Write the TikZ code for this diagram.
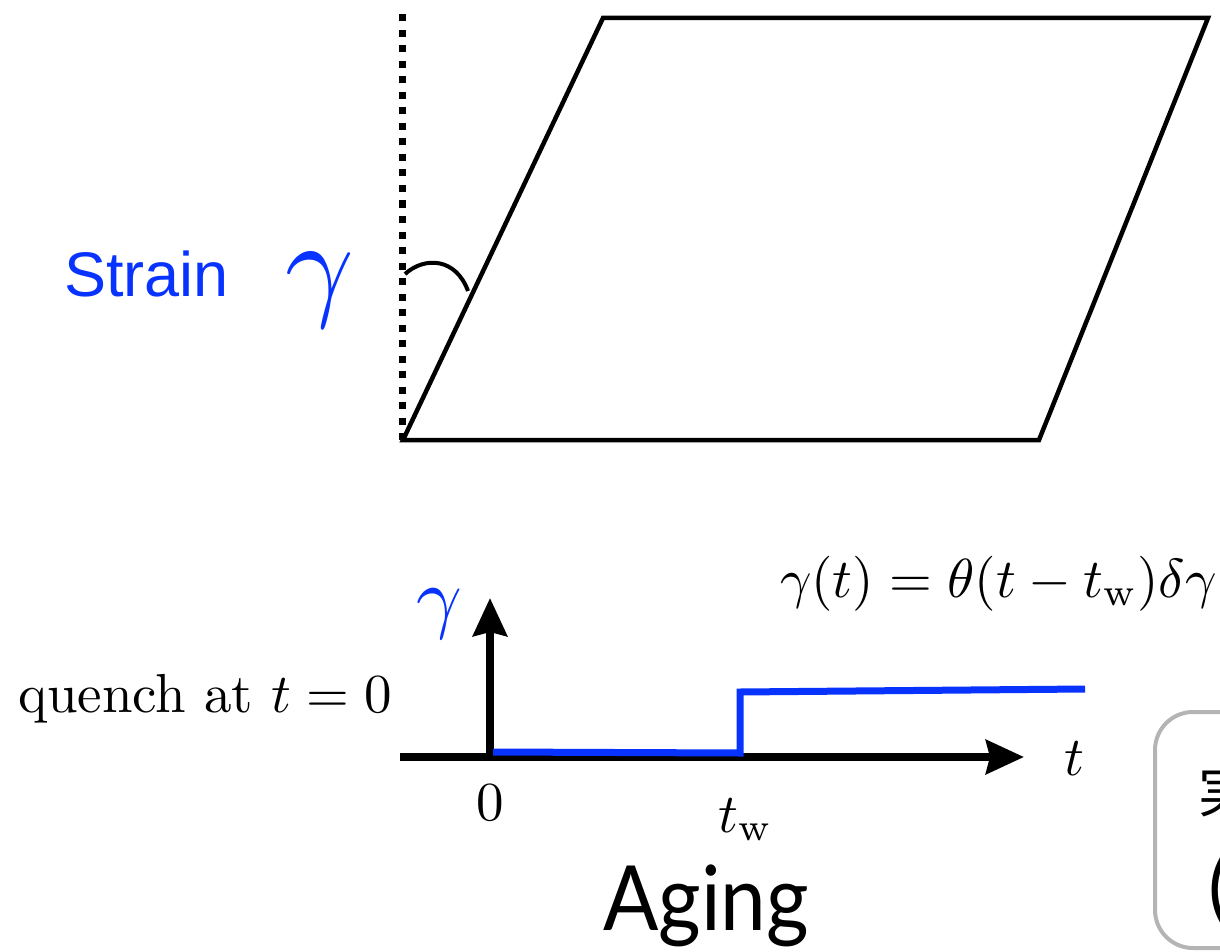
\documentclass[tikz,border=0pt]{standalone}
\usepackage{graphicx}
\usepackage{fontspec}
\newfontfamily\strainfont{Liberation Sans}
\newfontfamily\agingfont{Lato}
\newfontfamily\cjk{Noto Sans CJK JP}
\usetikzlibrary{arrows.meta}
\definecolor{sblue}{RGB}{8,51,255}
\definecolor{boxgray}{RGB}{180,180,180}
\tikzset{
  lbl/.style={inner sep=0pt, outer sep=0pt},
  edge/.style={line width=4.5pt, line join=miter},
  axis/.style={line width=7.5pt, -{Stealth[length=38pt,width=34pt,inset=4pt]}},
  bluestep/.style={sblue, line width=7pt, line join=miter},
}
\begin{document}
\begin{tikzpicture}[x=1pt,y=-1pt]
\useasboundingbox (0,0) rectangle (1220,952);
\clip (0,0) rectangle (1220,952);
% parallelogram
\coordinate (bl) at (403,440);
\coordinate (br) at (1039,440);
\coordinate (tr) at (1208,18);
\coordinate (tl) at (603,18);
\draw[edge] (bl) -- (br) -- (tr) -- (tl) -- cycle;
% dotted vertical
\coordinate (vtop) at (402,12);
\coordinate (vbot) at (402,440);
\draw[line width=7pt, dash pattern=on 7pt off 8.5pt] (vbot) -- (vtop);
% angle arc
\coordinate (a1) at (405,274);
\coordinate (a2) at (468,291);
\draw[line width=4pt] (a1) .. controls (425,256) and (456,258) .. (a2);
% labels
\node[lbl, anchor=base west, text=sblue] (strain) at (64,296) {\strainfont\fontsize{63}{70}\selectfont Strain};
\node[lbl, anchor=base, text=sblue] (gbig) at (320,304) {\scalebox{12}{$\gamma$}};
% axes
\coordinate (o) at (490,757);
\coordinate (xl) at (400,757);
\coordinate (xr) at (1024,757);
\coordinate (yt) at (490,598);
\draw[axis] (xl) -- (xr);
\draw[axis] (o) -- (yt);
% step
\coordinate (s0) at (493,752);
\coordinate (s1) at (740,753);
\coordinate (s2) at (740,692);
\coordinate (s3) at (1085,689);
\draw[bluestep] (s0) -- (s1) -- (s2) -- (s3);
% axis labels
\node[lbl, anchor=base, text=sblue] (gax) at (439,623) {\scalebox{8}{$\gamma$}};
\node[lbl, anchor=base] (zero) at (490,820) {\scalebox{5.5}{$0$}};
\node[lbl, anchor=base] (tw) at (746,832) {\scalebox{5.5}{$t_\mathrm{w}$}};
\node[lbl, anchor=base] (tlab) at (1074,775) {\scalebox{5.5}{$t$}};
\node[lbl, anchor=base west] (quench) at (18,712) {\scalebox{5.5}{quench at $t=0$}};
\node[lbl, anchor=base west] (formula) at (780,597) {\scalebox{5.5}{$\gamma(t)=\theta(t-t_\mathrm{w})\delta\gamma$}};
\node[lbl, anchor=base west] (aging) at (603,930) {\scalebox{0.91}[1]{\agingfont\fontsize{90}{100}\selectfont Aging}};
% rounded box (cropped)
\draw[boxgray, line width=4pt, rounded corners=38pt] (1155,712) rectangle (1400,948);
\node[lbl, anchor=base west] (jp) at (1198,812) {\cjk\fontsize{56}{60}\selectfont 実};
\node[lbl, anchor=base west] (paren) at (1208,915) {\agingfont\fontsize{80}{90}\selectfont (};
\end{tikzpicture}
\end{document}
